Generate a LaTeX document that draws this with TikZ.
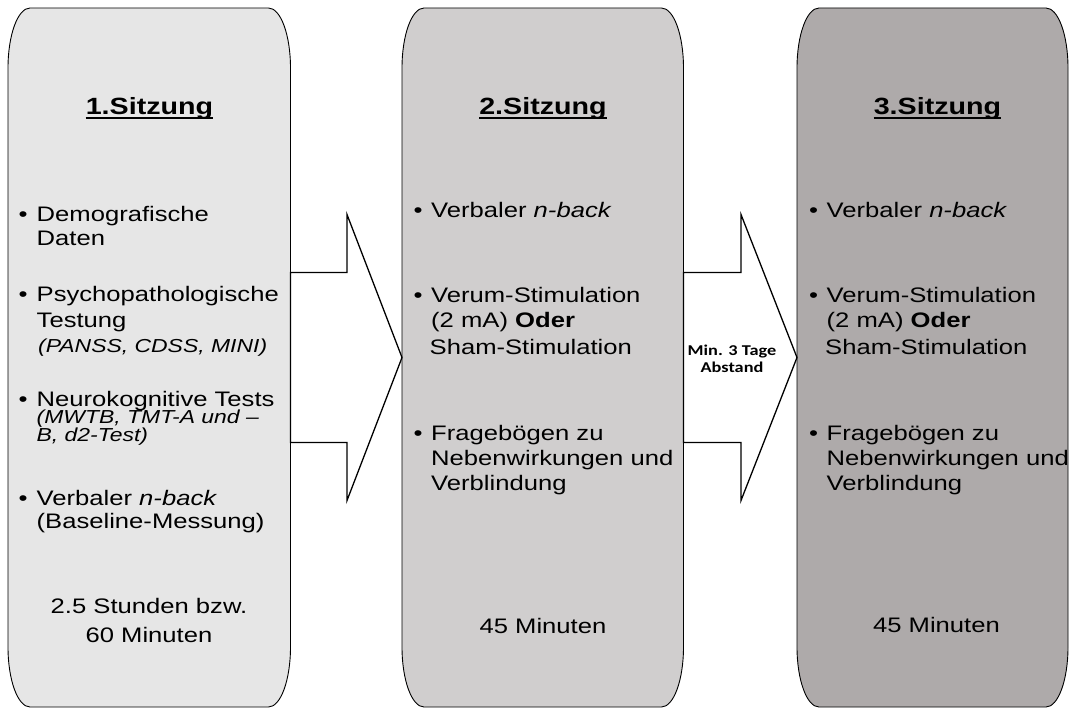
\documentclass[tikz,border=0pt]{standalone}
\usepackage{fontspec}
\setmainfont[FakeStretch=1.22]{Liberation Sans}
\newfontfamily\labelfont[FakeStretch=1.22]{Carlito}
\usetikzlibrary{calc}

\definecolor{sessA}{RGB}{230,230,230}
\definecolor{sessB}{RGB}{208,206,206}
\definecolor{sessC}{RGB}{174,170,170}

\begin{document}
\begin{tikzpicture}[x=1pt,y=-1pt,
  frame/.style={inner sep=0pt,outer sep=0pt,draw=none},
  outline/.style={draw=black,line width=0.9pt},
  blockarrow/.style={draw=black,fill=white,line width=1.3pt,line join=miter},
  underbar/.style={draw=black,line width=2.2pt},
  tx/.style={anchor=base west,inner sep=0pt,font=\fontsize{21}{24}\selectfont},
  ix/.style={anchor=base west,inner sep=0pt,font=\fontsize{18.8}{20}\selectfont\itshape},
  bul/.style={anchor=base,inner sep=0pt,font=\fontsize{21}{24}\selectfont},
  cx/.style={anchor=base,inner sep=0pt,font=\fontsize{21}{24}\selectfont},
  head/.style={anchor=base,inner sep=0pt,font=\fontsize{23.5}{28}\selectfont\bfseries},
  gap/.style={anchor=base,inner sep=0pt,font=\labelfont\fontsize{15}{17}\selectfont\bfseries}]

\useasboundingbox (0,0) rectangle (1071,708);

% session frames (invisible nodes carrying the geometry)
\node[frame,minimum width=282.5pt,minimum height=699pt] (s1) at (149.25,357.5) {};
\node[frame,minimum width=281.5pt,minimum height=699pt] (s2) at (542.75,357.5) {};
\node[frame,minimum width=271pt,minimum height=699pt] (s3) at (932.5,357.5) {};

% outlines with tall elliptical corners
\foreach \s/\c in {s1/sessA,s2/sessB,s3/sessC}{
  \draw[outline,fill=\c]
    ($(\s.north west)+(0,60)$) arc[start angle=180,end angle=270,x radius=22,y radius=60]
    -- ($(\s.north east)+(-22,0)$) arc[start angle=270,end angle=360,x radius=22,y radius=60]
    -- ($(\s.south east)+(0,-60)$) arc[start angle=0,end angle=90,x radius=22,y radius=60]
    -- ($(\s.south west)+(22,0)$) arc[start angle=90,end angle=180,x radius=22,y radius=60]
    -- cycle;
}

% block arrows between the sessions
\draw[blockarrow]
  ($(s1.east)+(0,-85)$) -- ($(s2.west)+(-55,-85)$) -- ($(s2.west)+(-55,-143)$)
  -- (s2.west) -- ($(s2.west)+(-55,143)$) -- ($(s2.west)+(-55,85)$)
  -- ($(s1.east)+(0,85)$) -- cycle;
\draw[blockarrow]
  ($(s2.east)+(0,-85)$) -- ($(s3.west)+(-56,-85)$) -- ($(s3.west)+(-56,-143)$)
  -- (s3.west) -- ($(s3.west)+(-56,143)$) -- ($(s3.west)+(-56,85)$)
  -- ($(s2.east)+(0,85)$) -- cycle;

\node[gap] (g1) at (732,356) {Min. 3 Tage};
\node[gap] (g2) at (732,373) {Abstand};

% session headings, underlined
\node[head] (h1) at (149.5,115) {1.Sitzung};
\node[head] (h2) at (543,115) {2.Sitzung};
\node[head] (h3) at (937.5,115) {3.Sitzung};
\foreach \h in {h1,h2,h3}
  \draw[underbar] ($(\h.base west)+(0,3.4)$) -- ($(\h.base east)+(0,3.4)$);

% session 1
\node[bul] (a1) at (23,221.7) {•};
\node[tx] (a1a) at (36.5,221.7) {Demografische};
\node[tx] (a1b) at (36.5,246) {Daten};
\node[bul] (a2) at (23,301.7) {•};
\node[tx] (a2a) at (36.5,301.7) {Psychopathologische};
\node[tx] (a2b) at (36.5,327.7) {Testung};
\node[ix] (a2c) at (38,352.7) {(PANSS, CDSS, MINI)};
\node[bul] (a3) at (23,406.7) {•};
\node[tx] (a3a) at (36.5,406.7) {Neurokognitive Tests};
\node[ix] (a3b) at (36.5,424) {(MWTB, TMT-A und –};
\node[ix] (a3c) at (36.5,441) {B, d2-Test)};
\node[bul] (a4) at (23,505) {•};
\node[tx] (a4a) at (36.5,505) {Verbaler \textit{n-back}};
\node[tx] (a4b) at (36.5,528) {(Baseline-Messung)};
\node[cx] (t1a) at (149,613) {2.5 Stunden bzw.};
\node[cx] (t1b) at (149,642) {60 Minuten};

% session 2
\node[bul] (b1) at (418,218) {•};
\node[tx] (b1a) at (431,218) {Verbaler \textit{n-back}};
\node[bul] (b2) at (418,303) {•};
\node[tx] (b2a) at (431,303) {Verum-Stimulation};
\node[tx] (b2b) at (431,328) {(2 mA) \textbf{Oder}};
\node[tx] (b2c) at (429.5,355) {Sham-Stimulation};
\node[bul] (b3) at (418,440) {•};
\node[tx] (b3a) at (431,440) {Fragebögen zu};
\node[tx] (b3b) at (431,465) {Nebenwirkungen und};
\node[tx] (b3c) at (431,490) {Verblindung};
\node[cx] (t2) at (543,633) {45 Minuten};

% session 3
\node[bul] (c1) at (813.5,218) {•};
\node[tx] (c1a) at (826.5,218) {Verbaler \textit{n-back}};
\node[bul] (c2) at (813.5,303) {•};
\node[tx] (c2a) at (826.5,303) {Verum-Stimulation};
\node[tx] (c2b) at (826.5,328) {(2 mA) \textbf{Oder}};
\node[tx] (c2c) at (825,355) {Sham-Stimulation};
\node[bul] (c3) at (813.5,440) {•};
\node[tx] (c3a) at (826.5,440) {Fragebögen zu};
\node[tx] (c3b) at (826.5,465) {Nebenwirkungen und};
\node[tx] (c3c) at (826.5,490) {Verblindung};
\node[cx] (t3) at (936.5,632) {45 Minuten};

\end{tikzpicture}
\end{document}
